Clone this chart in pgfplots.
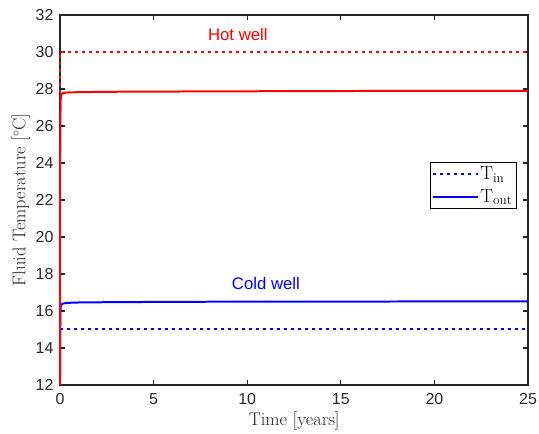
\documentclass[border=0pt]{standalone}
\usepackage{pgfplots}
\pgfplotsset{compat=1.18}
\usepackage{fontspec}
\newfontfamily\arial{Liberation Sans}
\definecolor{mgray}{rgb}{0.15,0.15,0.15}
\definecolor{mred}{rgb}{1,0,0}
\definecolor{mblue}{rgb}{0,0,1}
\begin{document}
\begin{tikzpicture}
\begin{axis}[
  scale only axis,
  width=468bp, height=370bp,
  xmin=0, xmax=25, ymin=12, ymax=32,
  xtick={0,5,...,25}, ytick={12,14,...,32},
  tick align=inside,
  major tick length=5bp,
  axis line style={mgray, line width=1.3pt},
  tick style={mgray, line width=1.3pt},
  tick label style={font=\arial\fontsize{16}{18}\selectfont, text=mgray},
  xticklabel style={yshift=-5bp},
  yticklabel style={xshift=-3bp},
  /pgf/number format/assume math mode=true,
  xlabel={Time [years]},
  ylabel={Fluid Temperature [$^\circ$C]},
  label style={font=\fontsize{18.5}{20}\selectfont, text=mgray},
  xlabel style={yshift=0bp},
  ylabel style={yshift=-1bp},
  clip=false,
  legend style={at={(rel axis cs:0.9765,0.6027)}, anchor=north east,
    draw=black, line width=1.3pt, font=\fontsize{19}{20}\selectfont,
    inner xsep=2pt, inner ysep=1.5pt, row sep=2pt,
    nodes={inner ysep=3pt, inner xsep=2pt}},
  legend cell align=left,
  legend image code/.code={\draw[#1, line width=2pt] (0bp,0bp) -- (44bp,0bp);},
]
\addplot[mblue, line width=2pt, dash pattern={on 2.6bp off 4.4bp}] coordinates {(0,15) (25,15)};
\addlegendentry{T$_{\mathrm{in}}$}
\addplot[mblue, line width=2pt] coordinates {
(0,12) (0.01,15.0) (0.03,16.2) (0.06,16.33) (0.15,16.40) (0.4,16.44) (1,16.46) (3,16.48) (8,16.5) (15,16.51) (25,16.52)};
\addlegendentry{T$_{\mathrm{out}}$}
\addplot[mred, line width=2pt, dash pattern={on 2.6bp off 4.4bp}, forget plot] coordinates {(0,27.8) (0,30) (25,30)};
\addplot[mred, line width=2pt, forget plot] coordinates {
(0,12) (0.01,24.0) (0.03,27.3) (0.06,27.7) (0.15,27.78) (0.4,27.81) (1,27.83) (3,27.85) (8,27.87) (15,27.89) (25,27.9)};
\node[text=mred, font=\arial\fontsize{16.8}{18}\selectfont] at (axis cs:9.5,30.95) {Hot well};
\node[text=mblue, font=\arial\fontsize{16.8}{18}\selectfont] at (axis cs:11.0,17.5) {Cold well};
\coordinate (bl) at (rel axis cs:-0.1282,-0.1324);
\coordinate (tr) at (rel axis cs:1.0235,1.0405);
\end{axis}
\pgfresetboundingbox
\path (bl) rectangle (tr);
\end{tikzpicture}
\end{document}
